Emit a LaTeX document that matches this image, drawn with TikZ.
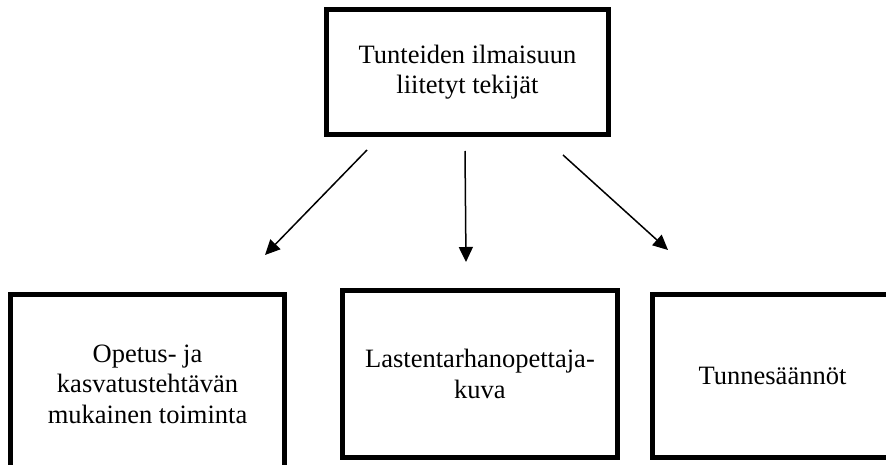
\documentclass[tikz,border=0pt]{standalone}
\usepackage{fontspec}
\setmainfont{Liberation Serif}
\usetikzlibrary{arrows.meta}
\begin{document}
\begin{tikzpicture}[x=1pt,y=-1pt,
  boxnode/.style={draw=black,line width=5pt,align=center,inner sep=0pt,
    font=\fontsize{26.5pt}{30.5pt}\selectfont},
  conn/.style={line width=1.5pt,-{Triangle[length=15pt,width=14pt]}}]
\useasboundingbox (0,0) rectangle (886,465);
\node[boxnode,minimum width=282pt,minimum height=125pt] (top) at (467.5,72) {Tunteiden ilmaisuun\\liitetyt tekijät};
\node[boxnode,minimum width=274pt,minimum height=179pt] (left) at (147.5,384) {Opetus- ja\\kasvatustehtävän\\mukainen toiminta};
\node[boxnode,minimum width=275pt,minimum height=167pt] (mid) at (480,374) {Lastentarhanopettaja-\\kuva};
\node[boxnode,minimum width=240pt,minimum height=163pt] (right) at (772.5,376) {Tunnesäännöt};
\coordinate (s1) at (367,150);
\coordinate (e1) at (265,255);
\coordinate (s2) at (465,151);
\coordinate (e2) at (466,262);
\coordinate (s3) at (563,155);
\coordinate (e3) at (668,250);
\draw[conn] (s1) -- (e1);
\draw[conn] (s2) -- (e2);
\draw[conn] (s3) -- (e3);
\end{tikzpicture}
\end{document}
